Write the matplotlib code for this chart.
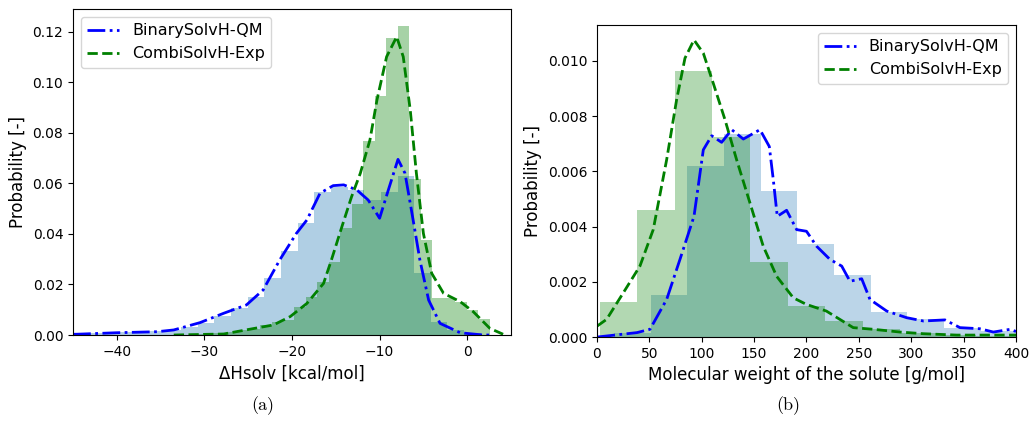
#!/usr/bin/env python3
import numpy as np
import matplotlib.pyplot as plt

# ---- (a) solvation enthalpy ----
# histogram of BinarySolvH-QM (regular bins)
qm_h_start, qm_h_width = -45.95, 1.9
qm_h_heights = [0.0004, 0.0006, 0.0008, 0.0010, 0.0012, 0.0014, 0.0020, 0.0030,
                0.0048, 0.0075, 0.0105, 0.0149, 0.0224, 0.0334, 0.0442, 0.0565,
                0.0585, 0.0575, 0.0534, 0.0567, 0.0630, 0.0244, 0.0053, 0.0020,
                0.0006]
# histogram of CombiSolvH-Exp
exp_h_start, exp_h_width = -34.13, 1.31
exp_h_heights = [0.0002, 0.0002, 0.0004, 0.0006, 0.0008, 0.0012, 0.0018, 0.0025,
                 0.0040, 0.0052, 0.0059, 0.0112, 0.0152, 0.0211, 0.0290, 0.0422,
                 0.0520, 0.0768, 0.0947, 0.1174, 0.1224, 0.0616, 0.0376, 0.0145,
                 0.0145, 0.0132, 0.0099, 0.0062]

# KDE curves
qm_h_x = [-45, -44.6, -40, -35.4, -33.5, -30.5, -27.8, -25.2, -23.3, -21.4, -19.5,
          -18.3, -16.8, -15.3, -14.1, -12.6, -11.3, -10.0, -9.0, -7.9, -7.1, -6.3,
          -5.4, -4.4, -3.1, -0.8, 1.8, 3.0]
qm_h_y = [0.0003, 0.0003, 0.0009, 0.0013, 0.0020, 0.0049, 0.0086, 0.0119, 0.0178,
          0.0297, 0.0402, 0.0455, 0.0561, 0.0591, 0.0594, 0.0574, 0.0534, 0.0462,
          0.0574, 0.0695, 0.0640, 0.0481, 0.0297, 0.0138, 0.0046, 0.0009, 0.0, 0.0]
exp_h_x = [-33.5, -27.8, -22.1, -20.2, -18.3, -16.4, -15.5, -14.3, -13.2, -12.2,
           -11.1, -10.3, -9.2, -8.05, -7.3, -6.5, -5.8, -5.0, -4.05, -2.7, -0.8,
           0.7, 2.6, 4.1]
exp_h_y = [0.0, 0.0004, 0.0040, 0.0073, 0.0125, 0.0204, 0.0297, 0.0429, 0.0547,
           0.0640, 0.0772, 0.0930, 0.1101, 0.1180, 0.1101, 0.0890, 0.0640, 0.0402,
           0.0244, 0.0165, 0.0132, 0.0092, 0.0026, 0.0003]

# ---- (b) molecular weight ----
qm_mw_start, qm_mw_width = 16.2, 35.0
qm_mw_heights = [0.00016, 0.00151, 0.00620, 0.00735, 0.00530, 0.00337, 0.00223,
                 0.00090, 0.00064, 0.00034, 0.00022]
exp_mw_start, exp_mw_width = 2.5, 35.9
exp_mw_heights = [0.00126, 0.00459, 0.00965, 0.00726, 0.00270, 0.00112, 0.00057,
                  0.00028, 0.00016, 0.00008, 0.00005, 0.00003]

qm_mw_x = [0.3, 38.2, 50.6, 66.5, 79.2, 92.6, 101.5, 109.5, 119.0, 128.6, 139.7,
           155.6, 164.5, 168.3, 172.1, 181.0, 190.6, 200.0, 209.6, 222.4, 233.6,
           241.5, 252.7, 260.6, 276.6, 295.6, 311.6, 332.2, 346.5, 365.6, 378.4,
           394.6, 400.0]
qm_mw_y = [0.0, 0.00016, 0.00028, 0.00136, 0.00281, 0.00437, 0.00678, 0.00729,
           0.00705, 0.00751, 0.00717, 0.00751, 0.00690, 0.00570, 0.00437, 0.00459,
           0.00389, 0.00383, 0.00329, 0.00281, 0.00257, 0.00202, 0.00211, 0.00136,
           0.00094, 0.00070, 0.00058, 0.00062, 0.00034, 0.00030, 0.00018, 0.00028,
           0.00020]
exp_mw_x = [0.3, 9.2, 25.1, 41.0, 53.7, 66.5, 76.0, 84.0, 92.6, 101.5, 111.0, 122.2,
            133.3, 146.0, 158.7, 171.5, 187.4, 200.0, 219.0, 231.8, 244.6, 263.7,
            289.3, 311.6, 343.4, 400.0]
exp_mw_y = [0.00040, 0.00064, 0.00160, 0.00257, 0.00389, 0.00642, 0.00859, 0.01010,
            0.01076, 0.01028, 0.00919, 0.00787, 0.00642, 0.00486, 0.00329, 0.00220,
            0.00142, 0.00118, 0.00094, 0.00064, 0.00034, 0.00028, 0.00018, 0.00012,
            0.00007, 0.00007]

labels = ['BinarySolvH-QM', 'CombiSolvH-Exp']


def bin_edges(start, width, heights):
    return start + width * np.arange(len(heights) + 1)


def draw_panel(ax, qm, exp, alpha):
    for (start, width, heights), color in zip([qm, exp], ['C0', 'green']):
        edges = bin_edges(start, width, heights)
        ax.hist(edges[:-1], bins=edges, weights=heights, color=color, alpha=alpha)


fig = plt.figure(figsize=(10.30, 4.29), dpi=100)
ax1 = fig.add_axes([0.0709, 0.2191, 0.4252, 0.760])
ax2 = fig.add_axes([0.5796, 0.2144, 0.4068, 0.7273])

draw_panel(ax1, (qm_h_start, qm_h_width, qm_h_heights),
           (exp_h_start, exp_h_width, exp_h_heights), 0.35)
ax1.plot(qm_h_x, qm_h_y, 'b-.', lw=2, label=labels[0])
ax1.plot(exp_h_x, exp_h_y, 'g--', lw=2, label=labels[1])
ax1.set_xlim(-45, 5)
ax1.set_ylim(0, 0.129)
ax1.set_xlabel('ΔHsolv [kcal/mol]', fontsize=12)
ax1.set_ylabel('Probability [-]', fontsize=12)
ax1.legend(loc='upper left', fontsize=11.5)

draw_panel(ax2, (qm_mw_start, qm_mw_width, qm_mw_heights),
           (exp_mw_start, exp_mw_width, exp_mw_heights), 0.3)
ax2.plot(qm_mw_x, qm_mw_y, 'b-.', lw=2, label=labels[0])
ax2.plot(exp_mw_x, exp_mw_y, 'g--', lw=2, label=labels[1])
ax2.set_xlim(0, 400)
ax2.set_ylim(0, 0.0113)
ax2.set_xlabel('Molecular weight of the solute [g/mol]', fontsize=12)
ax2.set_ylabel('Probability [-]', fontsize=12)
ax2.legend(loc='upper right', fontsize=11.5)

for ax in (ax1, ax2):
    ax.tick_params(labelsize=10)

# subfigure captions
fig.text(0.2552, 0.045, '(a)', fontfamily='cmr10', fontsize=13, ha='center')
fig.text(0.765, 0.045, '(b)', fontfamily='cmr10', fontsize=13, ha='center')

fig.savefig('out.png', dpi=100)
